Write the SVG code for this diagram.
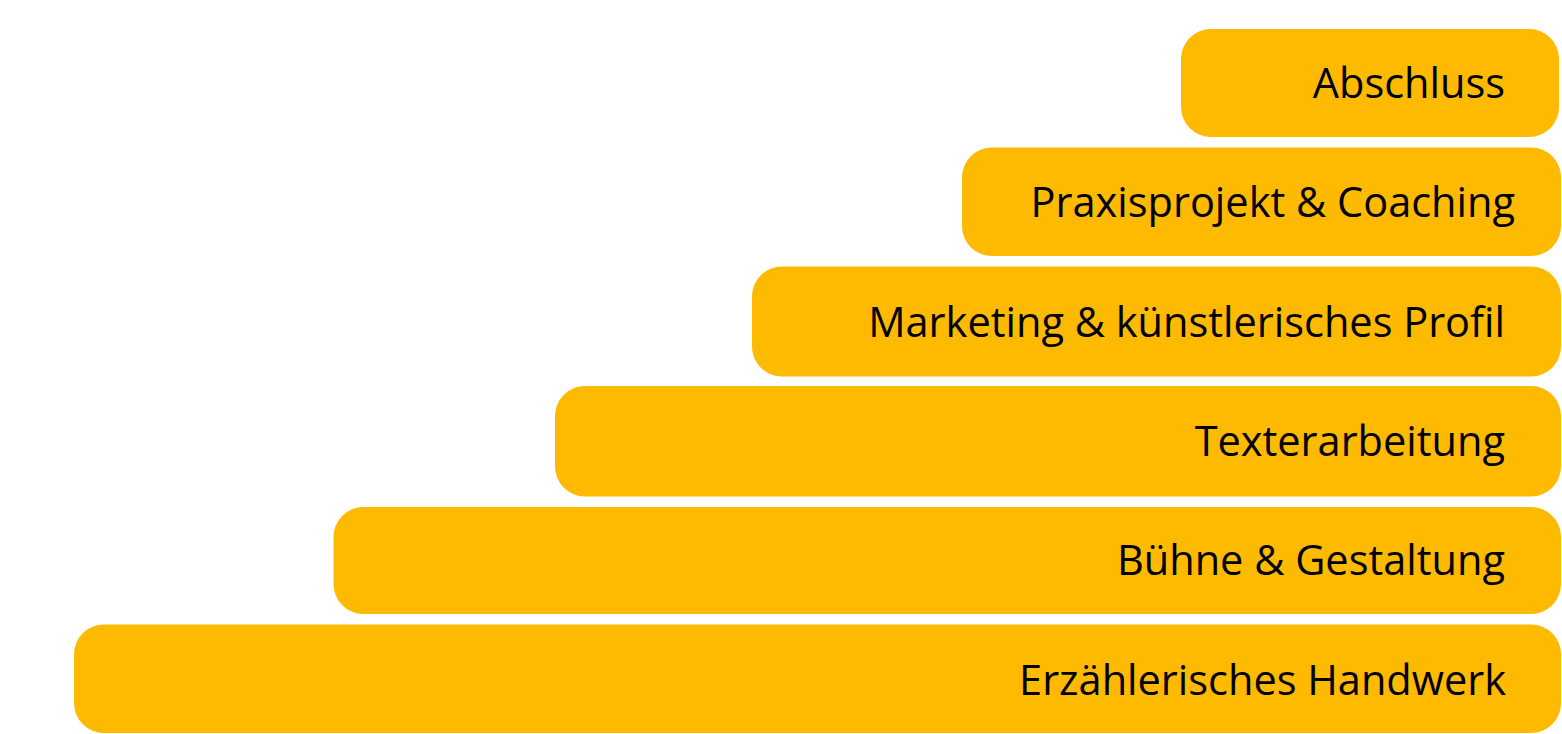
<svg xmlns="http://www.w3.org/2000/svg" width="1562" height="734" viewBox="0 0 1562 734">
<style>
.box{fill:#FDBA00;}
.lbl{font-family:"Open Sans","Noto Sans","Liberation Sans",sans-serif;font-size:41.5px;fill:#000;text-anchor:end;}
</style>
<rect width="1562" height="734" fill="#fff"/>
<g id="connectors"></g>
<g id="node-abschluss"><rect class="box" x="1181" y="29" width="378" height="108" rx="30"/><text class="lbl" x="1505" y="98">Abschluss</text></g>
<g id="node-praxis"><rect class="box" x="962" y="147.5" width="599" height="108.5" rx="30"/><text class="lbl" x="1515" y="217">Praxisprojekt &amp; Coaching</text></g>
<g id="node-marketing"><rect class="box" x="752" y="266.5" width="809" height="110" rx="30"/><text class="lbl" x="1505" y="337">Marketing &amp; künstlerisches Profil</text></g>
<g id="node-texter"><rect class="box" x="555" y="386" width="1006" height="110.5" rx="30"/><text class="lbl" x="1505" y="456">Texterarbeitung</text></g>
<g id="node-buehne"><rect class="box" x="333.5" y="507" width="1227.5" height="107" rx="30"/><text class="lbl" x="1505" y="575">Bühne &amp; Gestaltung</text></g>
<g id="node-erz"><rect class="box" x="74" y="624.5" width="1487" height="108.5" rx="30"/><text class="lbl" x="1506" y="695">Erzählerisches Handwerk</text></g>
</svg>
